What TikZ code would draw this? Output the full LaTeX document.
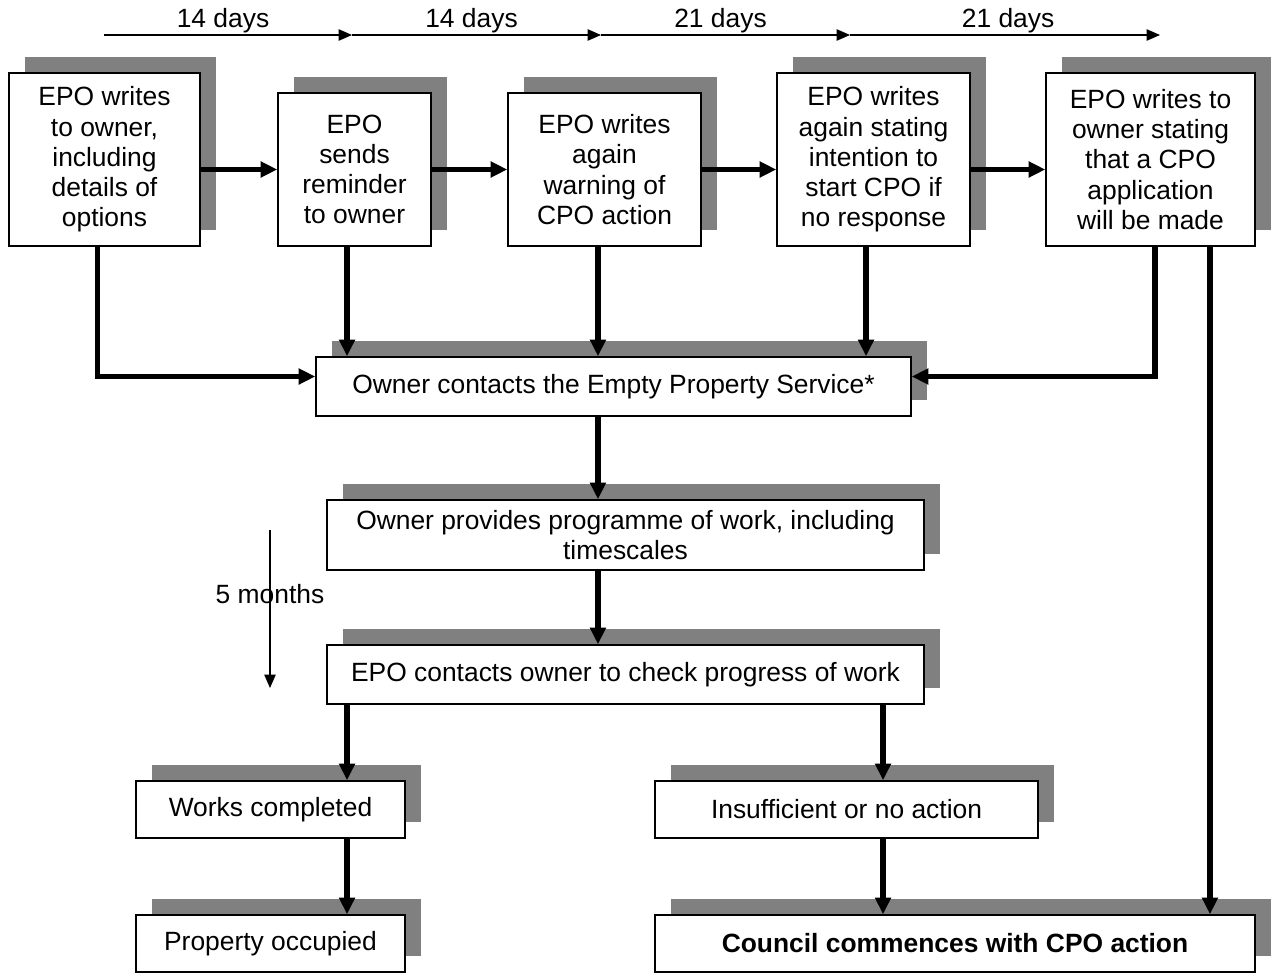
\documentclass[tikz,border=0pt]{standalone}
\usepackage{fontspec}
\setmainfont{Liberation Sans}
\usetikzlibrary{arrows.meta,shadows}
\definecolor{shadegray}{RGB}{128,128,128}

\tikzset{
	stage/.style={draw, line width=1.1pt, fill=white, align=center, inner sep=0pt,
		font=\fontsize{19.8}{22.7}\selectfont,
		general shadow={fill=shadegray, draw=none, shadow xshift=12pt, shadow yshift=12pt}},
	flow/.style={line width=3.9pt, -{Triangle[length=12.5pt,width=11.5pt]}},
	span/.style={line width=1pt, -{Triangle[length=10pt,width=8.5pt]}},
	lbl/.style={font=\fontsize{19.8}{22.7}\selectfont, inner sep=1pt},
}

\begin{document}
\begin{tikzpicture}[x=0.75pt,y=0.75pt,yscale=-1,xscale=1]
		\useasboundingbox (0,0) rectangle (1280,974);

		% letters to the owner
		\node[stage, minimum width=143.25pt, minimum height=129.75pt] (w1) at (104.5,159.5) {EPO writes\\to owner,\\including\\details of\\options};
		\node[stage, minimum width=114.75pt, minimum height=114.75pt] (w2) at (354.5,169.5) {EPO\\sends\\reminder\\to owner};
		\node[stage, minimum width=144.75pt, minimum height=114.75pt] (w3) at (604.5,169.5) {EPO writes\\again\\warning of\\CPO action};
		\node[stage, minimum width=144.75pt, minimum height=129.75pt] (w4) at (873.5,159.5) {EPO writes\\again stating\\intention to\\start CPO if\\no response};
		\node[stage, minimum width=156.75pt, minimum height=129.75pt] (w5) at (1150.5,159.5) {EPO writes to\\owner stating\\that a CPO\\application\\will be made};

		\node[stage, minimum width=446.25pt, minimum height=44.25pt] (contact) at (613.5,386.5) {Owner contacts the Empty Property Service*};
		\node[stage, minimum width=447.75pt, minimum height=52.5pt] (prog) at (625.5,535) {Owner provides programme of work, including\\timescales};
		\node[stage, minimum width=447.75pt, minimum height=44.25pt] (check) at (625.5,674.5) {EPO contacts owner to check progress of work};
		\node[stage, minimum width=201.75pt, minimum height=42.75pt] (done) at (270.5,809.5) {Works completed};
		\node[stage, minimum width=287.25pt, minimum height=42.75pt] (noact) at (846.5,809.5) {Insufficient or no action};
		\node[stage, minimum width=201.75pt, minimum height=42.75pt] (occ) at (270.5,943.5) {Property occupied};
		\node[stage, minimum width=450pt, minimum height=42.75pt] (cpo) at (955,943.5) {\textbf{Council commences with CPO action}};

		% time line
		\coordinate (d0) at (104,35);
		\coordinate (d1) at (352,35);
		\coordinate (d2) at (601,35);
		\coordinate (d3) at (850,35);
		\coordinate (d4) at (1160,35);
		\draw[span] (d0) -- node[lbl, above, pos=0.48, name=g1] {14 days} (d1);
		\draw[span] (d1) -- node[lbl, above, pos=0.48, name=g2] {14 days} (d2);
		\draw[span] (d2) -- node[lbl, above, pos=0.48, name=g3] {21 days} (d3);
		\draw[span] (d3) -- node[lbl, above, pos=0.51, name=g4] {21 days} (d4);

		\coordinate (m0) at (270,530);
		\coordinate (m1) at (270,688);
		\draw[span] (m0) -- (m1);
		\node[lbl] (mlab) at (270,594) {5 months};

		% steps
		\draw[flow] (w1.east |- w2.west) -- (w2.west);
		\draw[flow] (w2.east) -- (w3.west);
		\draw[flow] (w3.east) -- (w4.west |- w3.east);
		\draw[flow] (w4.east |- w3.east) -- (w5.west |- w3.east);

		% replies
		\coordinate (inL) at ([yshift=-7.5pt]contact.west);
		\coordinate (inR) at ([yshift=-7.5pt]contact.east);
		\draw[flow] ([xshift=-5pt]w1.south) |- (inL);
		\draw[flow] ([xshift=-5.6pt]w2.south) coordinate (a2) -- (a2 |- contact.north);
		\draw[flow] ([xshift=-4.9pt]w3.south) coordinate (a3) -- (a3 |- contact.north);
		\draw[flow] ([xshift=-5.6pt]w4.south) coordinate (a4) -- (a4 |- contact.north);
		\draw[flow] ([xshift=3.4pt]w5.south) |- (inR);
		\draw[flow] ([xshift=44.6pt]w5.south) coordinate (a5) -- (a5 |- cpo.north);

		\draw[flow] (contact.south -| a3) -- (prog.north -| a3);
		\draw[flow] (prog.south -| a3) -- (check.north -| a3);
		\draw[flow] (check.south -| a2) -- (done.north -| a2);
		\draw[flow] ([xshift=27.4pt]noact.north |- check.south) coordinate (a6) -- (a6 |- noact.north);
		\draw[flow] (done.south -| a2) -- (occ.north -| a2);
		\draw[flow] (noact.south -| a6) -- (cpo.north -| a6);
	\end{tikzpicture}
\end{document}
